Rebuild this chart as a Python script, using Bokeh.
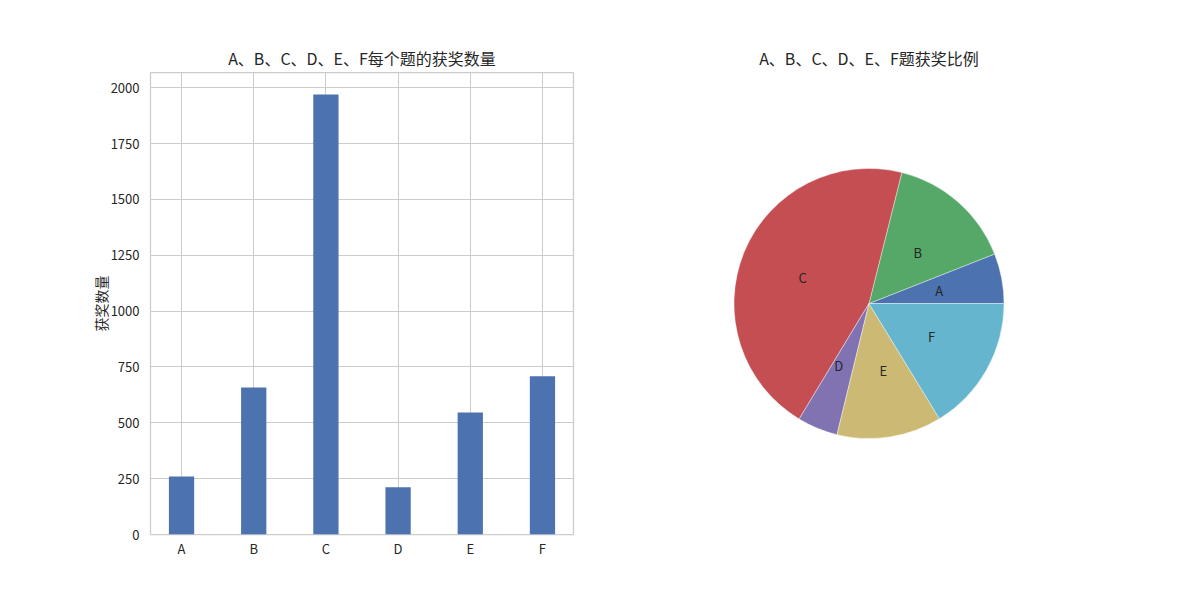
import math
from bokeh.plotting import figure
from bokeh.layouts import row
from bokeh.models import FactorRange, Range1d, ColumnDataSource, FixedTicker
from bokeh.core.properties import value, field
from bokeh.embed import file_html
from bokeh.resources import INLINE

# ---- data ----
categories = ["A", "B", "C", "D", "E", "F"]
award_counts = [260, 658, 1970, 211, 546, 708]
y_ticks = [0, 250, 500, 750, 1000, 1250, 1500, 1750, 2000]
pie_colors = ["#4C72B0", "#55A868", "#C44E52", "#8172B2", "#CCB974", "#64B5CD"]
bar_title = "A、B、C、D、E、F每个题的获奖数量"
pie_title = "A、B、C、D、E、F题获奖比例"
y_label = "获奖数量"

FONT = "Noto Sans CJK SC"
TXT = "#262626"
GRID = "#cccccc"

# ---- bar chart ----
p1 = figure(width=600, height=592, output_backend="svg", toolbar_location=None,
            x_range=FactorRange(*categories, range_padding=-0.07, range_padding_units="absolute"),
            y_range=Range1d(0, max(award_counts) * 1.05),
            min_border_left=150, min_border_right=27, min_border_top=72, min_border_bottom=58,
            title=bar_title)
p1.vbar(x=categories, top=award_counts, width=0.35, color="#4C72B0", line_color=None)

p1.title.align = "center"
p1.title.text_font = FONT
p1.title.text_font_size = "16px"
p1.title.text_font_style = "normal"
p1.title.text_color = TXT
p1.title.standoff = 6

p1.yaxis.ticker = FixedTicker(ticks=y_ticks)
p1.yaxis.axis_label = y_label
p1.yaxis.axis_label_text_font = FONT
p1.yaxis.axis_label_text_font_size = "14px"
p1.yaxis.axis_label_text_font_style = "normal"
p1.yaxis.axis_label_text_color = TXT
p1.yaxis.axis_label_standoff = -3
for ax in (p1.xaxis[0], p1.yaxis[0]):
    ax.axis_line_color = None
    ax.major_tick_line_color = None
    ax.minor_tick_line_color = None
    ax.major_tick_out = 0
    ax.major_tick_in = 0
    ax.minor_tick_out = 0
    ax.minor_tick_in = 0
    ax.major_label_text_font = FONT
    ax.major_label_text_font_size = "13px"
    ax.major_label_text_color = TXT
p1.xaxis.major_label_standoff = 4
p1.yaxis.major_label_standoff = 11
p1.xgrid.grid_line_color = GRID
p1.ygrid.grid_line_color = GRID
p1.xgrid.grid_line_width = 1
p1.ygrid.grid_line_width = 1
p1.outline_line_color = GRID
p1.outline_line_width = 1.25
p1.outline_line_alpha = 1
p1.background_fill_color = "white"
p1.border_fill_color = "white"

# ---- pie chart ----
total = sum(award_counts)
starts, ends, lx, ly, aligns = [], [], [], [], []
acc = 0.0
for v in award_counts:
    a0 = acc / total * 2 * math.pi
    acc += v
    a1 = acc / total * 2 * math.pi
    starts.append(a0)
    ends.append(a1)
    mid = (a0 + a1) / 2
    x = 0.5 * math.cos(mid)
    y = 0.5 * math.sin(mid)
    lx.append(x)
    ly.append(y)
    aligns.append("left" if x > 0 else "right")

src = ColumnDataSource(dict(cat=categories, start=starts, end=ends, color=pie_colors,
                            lx=lx, ly=ly, align=aligns))

px_per_unit = 135.0
fw, fh = 423.0, 462.0
p2 = figure(width=584, height=592, output_backend="svg", toolbar_location=None,
            x_range=Range1d(-fw / 2 / px_per_unit, fw / 2 / px_per_unit),
            y_range=Range1d(-fh / 2 / px_per_unit, fh / 2 / px_per_unit),
            min_border_left=57, min_border_right=104, min_border_top=72, min_border_bottom=58,
            title=pie_title)
p2.wedge(x=0, y=0, radius=1, start_angle="start", end_angle="end", direction="anticlock",
         fill_color="color", line_color="white", line_width=0.4, source=src)
p2.text(x="lx", y="ly", text="cat", source=src, text_align=field("align"),
        text_baseline="middle", text_font=value(FONT), text_font_size="13px", text_color=TXT)
p2.axis.visible = False
p2.grid.visible = False
p2.outline_line_color = None
p2.title.align = "center"
p2.title.text_font = FONT
p2.title.text_font_size = "16px"
p2.title.text_font_style = "normal"
p2.title.text_color = TXT
p2.title.standoff = 6
p2.background_fill_color = "white"
p2.border_fill_color = "white"

layout = row(p1, p2, spacing=0)
open("out.html", "w").write(file_html(layout, INLINE))
